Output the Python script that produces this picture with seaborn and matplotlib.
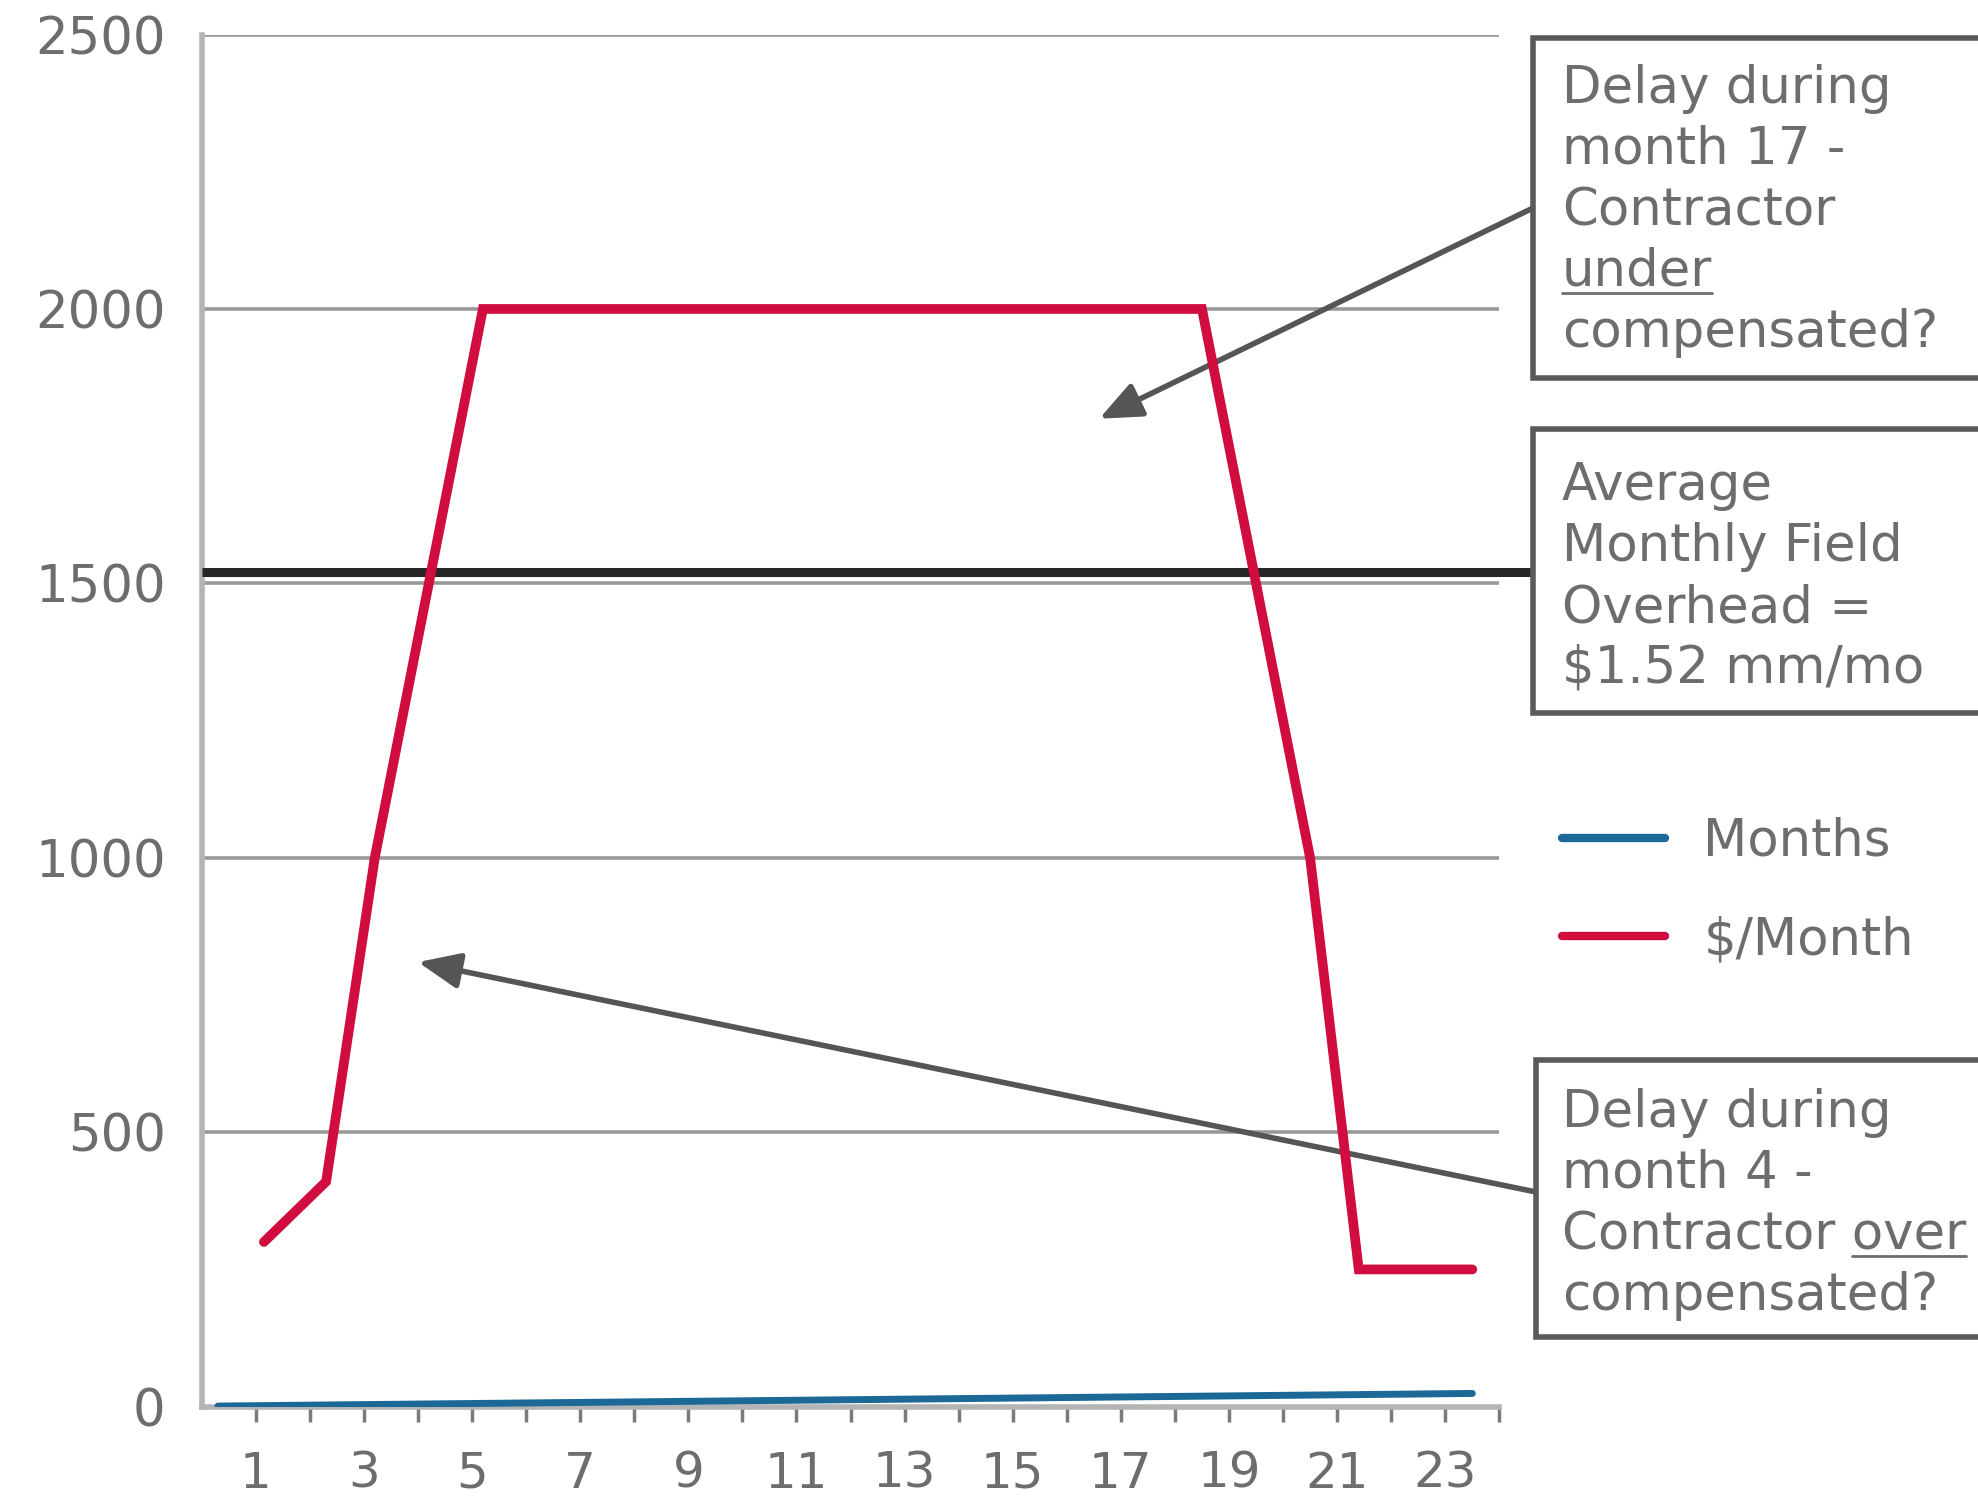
import numpy as np
import pandas as pd
import matplotlib
matplotlib.use("Agg")
import matplotlib.pyplot as plt
import seaborn as sns
from matplotlib.patches import Rectangle
from matplotlib.lines import Line2D

# ---- data -------------------------------------------------------------
months = [1, 2, 3, 4, 5, 6, 7, 8, 9, 10, 11, 12,
          13, 14, 15, 16, 17, 18, 19, 20, 21, 22, 23, 24]
spend_month = [1.15, 2.3, 3.2, 5.2, 18.5, 20.5, 21.4, 23.5]
spend_value = [300, 410, 1000, 2000, 2000, 1000, 250, 250]
avg_overhead = 1520
y_ticks = [0, 500, 1000, 1500, 2000, 2500]
x_tick_labels = ["1", "", "3", "", "5", "", "7", "", "9", "", "11", "",
                 "13", "", "15", "", "17", "", "19", "", "21", "", "23", ""]

box_under = ["Delay during", "month 17 -", "Contractor", "under", "compensated?"]
box_avg = ["Average", "Monthly Field", "Overhead =", "$1.52 mm/mo"]
box_over = ["Delay during", "month 4 -", "Contractor over", "compensated?"]

# ---- style ------------------------------------------------------------
sns.set_theme(style="white")
plt.rcParams["font.family"] = ["DejaVu Sans"]
TXT = "#6d6d6d"
GRID = "#999999"
SPINE = "#b4b4b4"
RED = "#d10c3e"
BLUE = "#1c6896"
W, H = 1978, 1502

fig = plt.figure(figsize=(W / 100, H / 100), dpi=100)
fig.patch.set_facecolor("white")
ax = fig.add_axes([0.102, 0.0635, 0.656, 0.9135])

months_df = pd.DataFrame({"x": np.linspace(0.3, 23.5, len(months)), "y": months})
spend_df = pd.DataFrame({"x": spend_month, "y": spend_value})

sns.lineplot(data=months_df, x="x", y="y", ax=ax, color=BLUE, lw=5,
             label="Months", sort=False, estimator=None, zorder=4)
sns.lineplot(data=spend_df, x="x", y="y", ax=ax, color=RED, lw=7,
             label="$/Month", sort=False, estimator=None, zorder=5,
             solid_joinstyle="miter")

# average field overhead line, running out to its callout box
box_left_x = 24 * (1533 - 202) / (1499 - 202)
ax.plot([0, box_left_x], [avg_overhead, avg_overhead], color="#262626",
        lw=6.5, clip_on=False, zorder=3, solid_capstyle="butt")

ax.set_xlim(0, 24)
ax.set_ylim(0, 2500)
ax.set_yticks(y_ticks)
ax.set_yticklabels([str(v) for v in y_ticks])
ax.set_xticks(months)
ax.set_xticklabels(x_tick_labels)
ax.set_xlabel("")
ax.set_ylabel("")
ax.yaxis.grid(True, color=GRID, lw=2.6)
ax.xaxis.grid(False)
ax.set_axisbelow(True)
for side in ("top", "right"):
    ax.spines[side].set_visible(False)
for side in ("left", "bottom"):
    ax.spines[side].set_color(SPINE)
    ax.spines[side].set_linewidth(4)
ax.tick_params(axis="y", length=0, pad=26, labelsize=37, labelcolor=TXT)
ax.tick_params(axis="x", length=11, width=2.5, color="#7a7a7a", pad=20,
               labelsize=36, labelcolor=TXT, bottom=True)

ax.legend(loc="center left", bbox_to_anchor=(1562 / W, 611 / H),
          bbox_transform=fig.transFigure, frameon=False, fontsize=37,
          handlelength=2.0, handletextpad=0.75, labelspacing=0.95,
          borderpad=0, borderaxespad=0, labelcolor=TXT)
for line in ax.get_legend().get_lines():
    line.set_linewidth(6)

# ---- callout boxes ----------------------------------------------------
def px_box(x0, top, bottom):
    fig.patches.append(Rectangle((x0 / W, 1 - bottom / H), 0.4,
                                 (bottom - top) / H, transform=fig.transFigure,
                                 facecolor="white", edgecolor="#5a5a5a",
                                 lw=4, zorder=1))

def px_lines(lines, x0, first_base, pitch=61):
    objs = []
    for i, s in enumerate(lines):
        objs.append(fig.text(x0 / W, 1 - (first_base + i * pitch) / H, s,
                             fontsize=37, color=TXT, va="baseline",
                             ha="left", zorder=3))
    return objs

px_box(1533, 38, 378)
px_box(1533, 429, 713)
px_box(1536, 1060, 1337)
t_under = px_lines(box_under, 1562, 103)
px_lines(box_avg, 1562, 500)
t_over = px_lines(box_over, 1562, 1127)

fig.canvas.draw()
rend = fig.canvas.get_renderer()

def underline(text_obj, x_from, x_to):
    y = text_obj.get_position()[1] * H - 7
    fig.lines.append(Line2D([x_from / W, x_to / W], [y / H, y / H],
                            transform=fig.transFigure, color=TXT, lw=2))

bb = t_under[3].get_window_extent(rend)
underline(t_under[3], bb.x0, bb.x1)
bb = t_over[2].get_window_extent(rend)
probe = fig.text(0, 0, "over", fontsize=37)
w_over = probe.get_window_extent(rend).width
probe.remove()
underline(t_over[2], bb.x1 - w_over, bb.x1)

# ---- arrows -----------------------------------------------------------
arrow = dict(arrowstyle="-|>,head_length=0.75,head_width=0.32",
             mutation_scale=34, lw=4, color="#555555", shrinkA=0, shrinkB=0)
ax.annotate("", xy=(16.6, 1800), xycoords="data",
            xytext=(1533, H - 208), textcoords="figure pixels",
            arrowprops=arrow, annotation_clip=False)
ax.annotate("", xy=(4.0, 810), xycoords="data",
            xytext=(1536, H - 1192), textcoords="figure pixels",
            arrowprops=arrow, annotation_clip=False)

fig.savefig("out.png", dpi=100, facecolor="white")
